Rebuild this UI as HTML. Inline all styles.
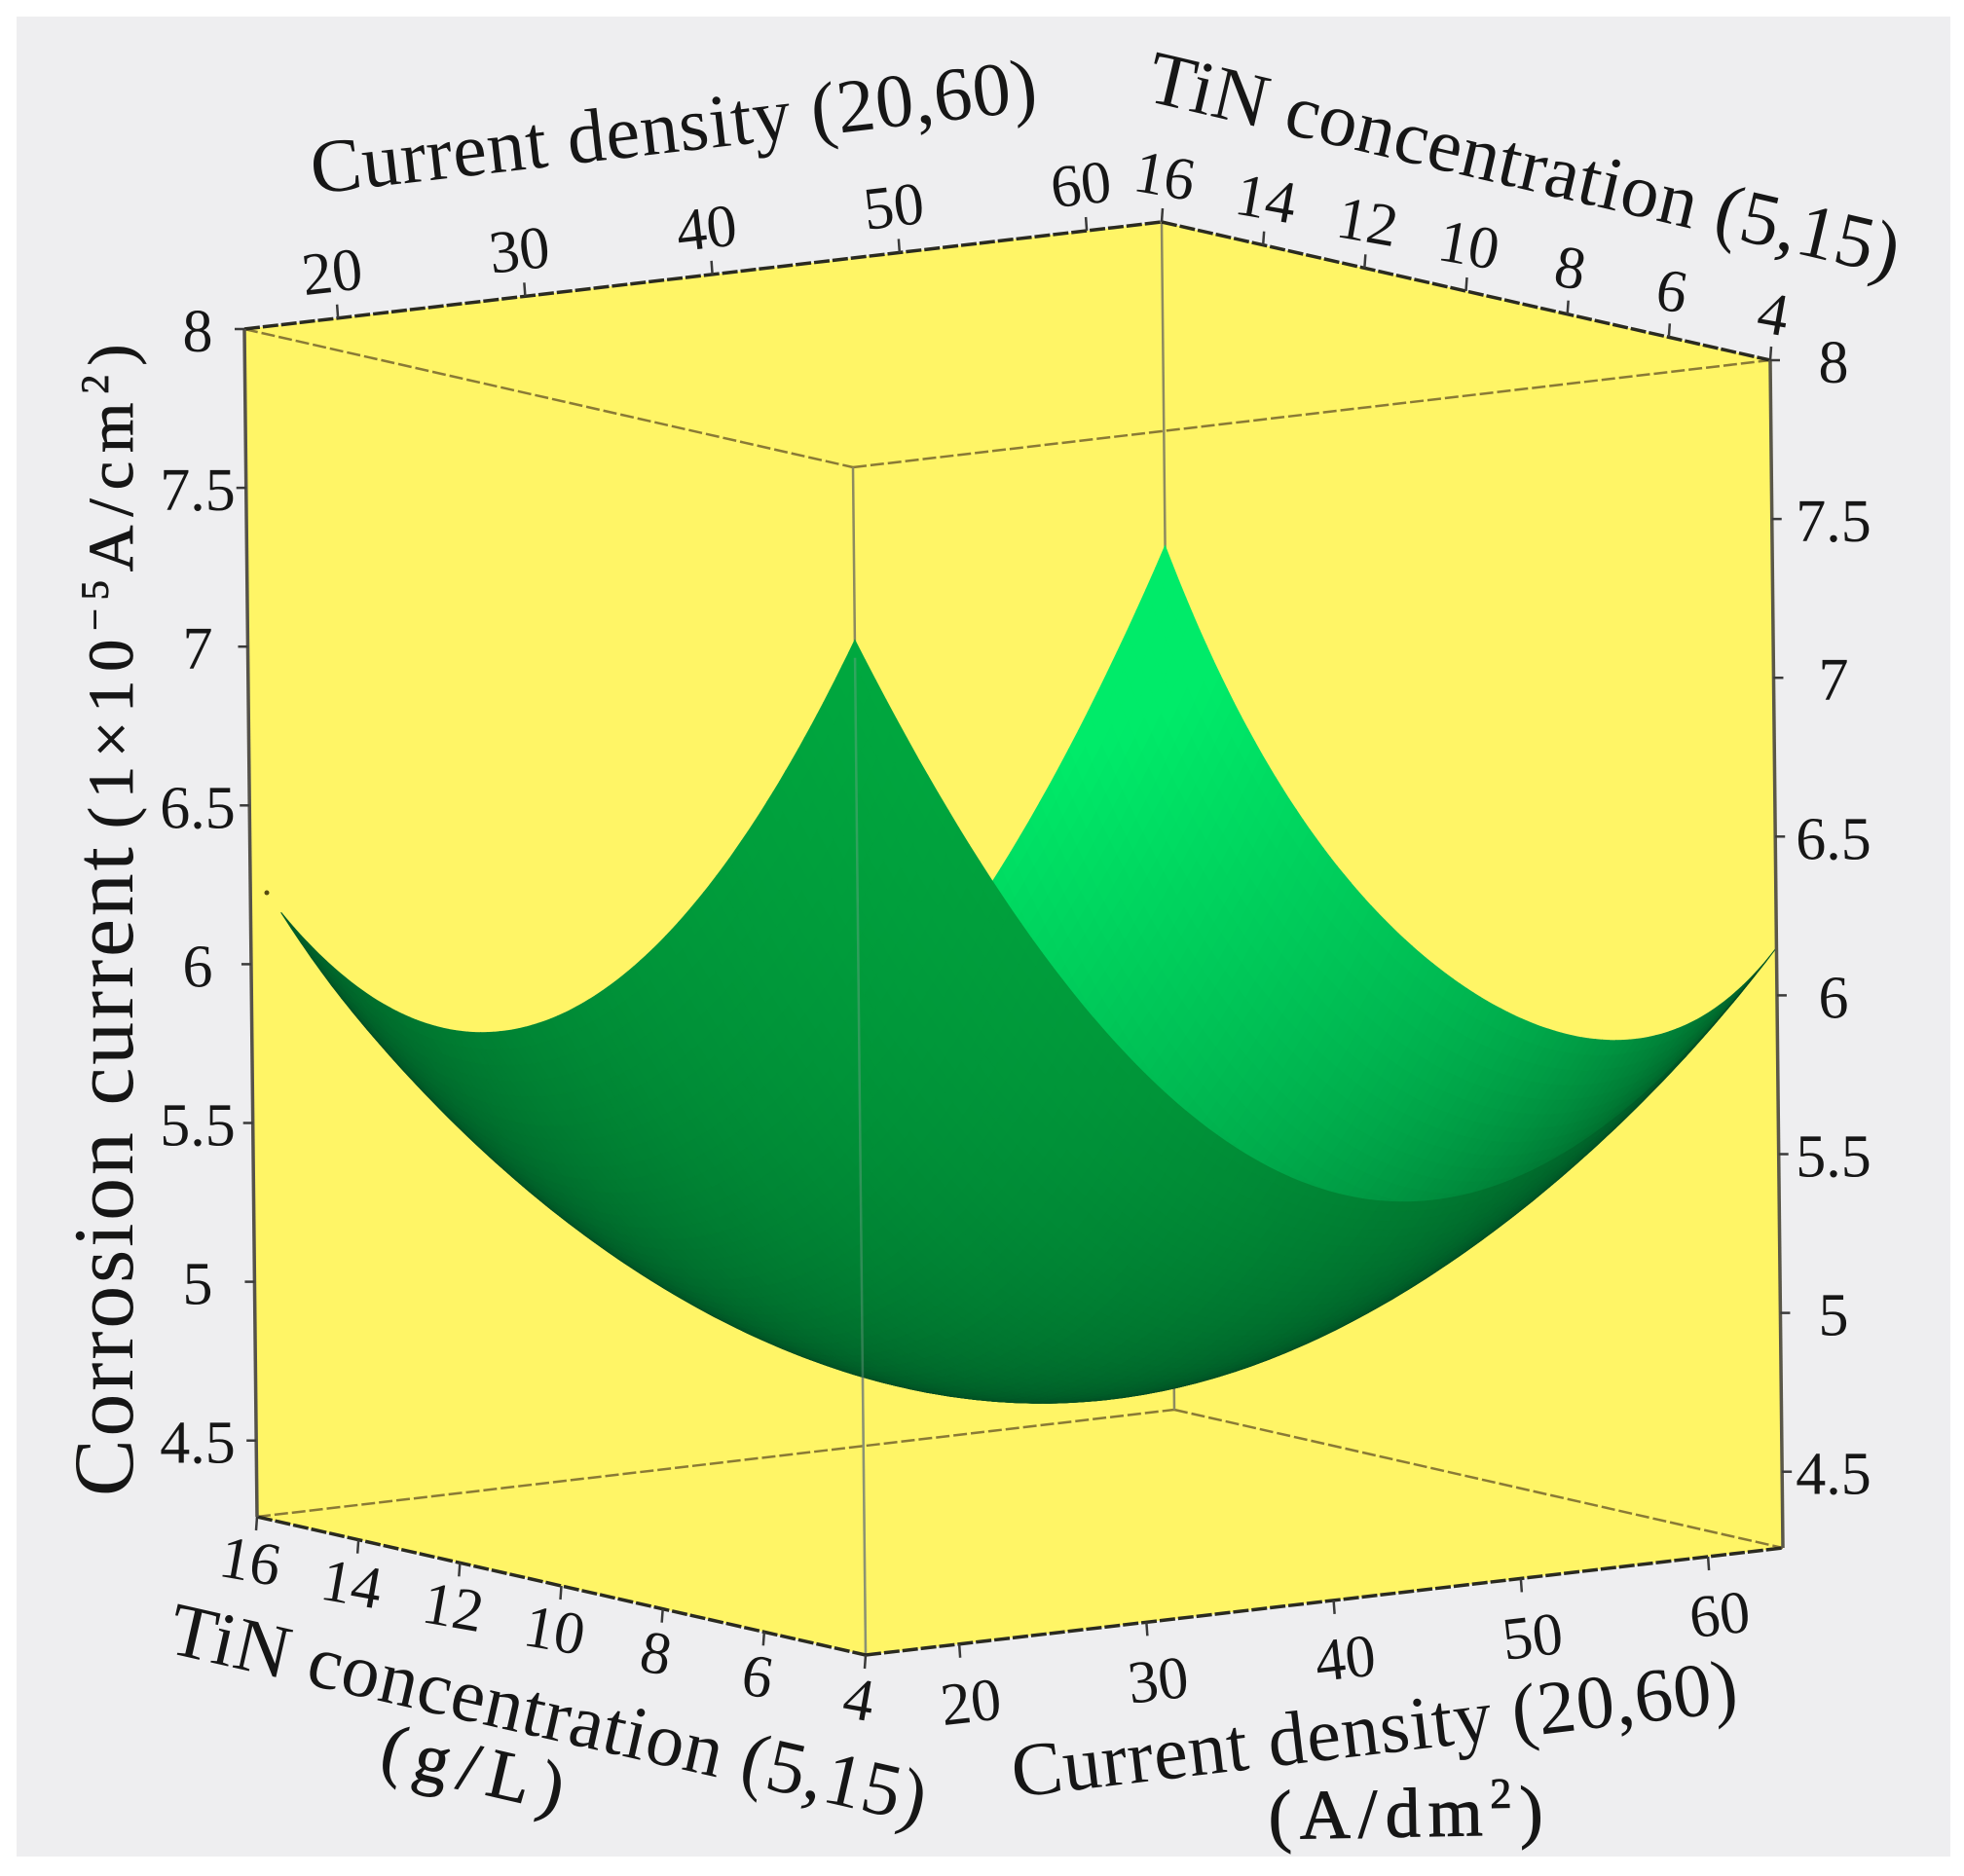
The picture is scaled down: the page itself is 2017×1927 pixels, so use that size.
<!DOCTYPE html>
<html lang="en">
<head>
<meta charset="utf-8">
<title>Corrosion current response surface</title>
<style>
html,body{margin:0;padding:0;background:#fff;}
svg{display:block;}
text{font-family:"Liberation Serif",serif;fill:#161616;}
</style>
</head>
<body>
<svg id="chart" xmlns="http://www.w3.org/2000/svg" width="2017" height="1927" viewBox="0 0 2017 1927">
  <rect x="17" y="17" width="1986" height="1890" fill="#eeeef0"/>
  <polygon id="walls" fill="#fff566"/>
  <g id="back-lines"></g>
  <g id="surface"></g>
  <g id="front-lines"></g>
  <g id="ticks"></g>
  <circle cx="274" cy="917" r="2.5" fill="#554a10"/>

  <text x="322" y="199" font-size="78" textLength="750" transform="rotate(-6.6 322 199)">Current density (20,60)</text>
  <text x="1175" y="103" font-size="78" textLength="790" transform="rotate(13.2 1175 103)">TiN concentration (5,15)</text>
  <text x="170" y="1697" font-size="78" textLength="795" transform="rotate(12.8 170 1697)">TiN concentration (5,15)</text>
  <text x="388" y="1818" font-size="72" stroke="#161616" stroke-width="0.8" textLength="190" transform="rotate(13 388 1818)">(g/L)</text>
  <text x="1042" y="1846" font-size="78" textLength="750" transform="rotate(-6.8 1042 1846)">Current density (20,60)</text>
  <text x="1303" y="1889" font-size="72" stroke="#161616" stroke-width="1" letter-spacing="8" transform="rotate(-1 1303 1889)">(A/dm<tspan font-size="44" dy="-28">2</tspan><tspan dy="28">)</tspan></text>
  <text x="136" y="1537" font-size="88" textLength="667" transform="rotate(-90 136 1537)">Corrosion current</text>
  <text x="136" y="851" font-size="66" stroke="#161616" stroke-width="0.8" letter-spacing="9" transform="rotate(-90 136 851)">(1×10<tspan font-size="40" dy="-25">−5</tspan><tspan dy="25">A/cm</tspan><tspan font-size="40" dy="-25">2</tspan><tspan dy="25">)</tspan></text>
</svg>

<script>
// ---- chart data ----
const densityGrid = [15, 27.25, 39.5, 51.75, 64];
const tinGrid = [4, 7, 10, 13, 16];
const currentAtTin4 = [7.456, 6.2, 5.56, 5.56, 6.15];
const currentAtTin7 = [6.56, 5.42, 4.92, 5.04, 5.75];
const currentAtTin10 = [6.051, 5.05, 4.67, 4.9, 5.79];
const currentAtTin13 = [5.95, 5.06, 4.8, 5.15, 6.15];
const currentAtTin16 = [6.29, 5.45, 5.33, 5.85, 6.98];
const densityTicks = [20, 30, 40, 50, 60];
const tinTicks = [16, 14, 12, 10, 8, 6, 4];
const currentTicks = [8, 7.5, 7, 6.5, 6, 5.5, 5, 4.5];
const currentTickLabels = ['8', '7.5', '7', '6.5', '6', '5.5', '5', '4.5'];

const currentRows = [currentAtTin4, currentAtTin7, currentAtTin10, currentAtTin13, currentAtTin16];
const NS = 'http://www.w3.org/2000/svg';

// ---- axis functions (orthographic cube projection) ----
const D_MIN = 15, D_MAX = 64, T_MIN = 4, T_MAX = 16, Z_MIN = 4.26, Z_MAX = 8;
function densityAxis(d) { return (d - D_MIN) / (D_MAX - D_MIN); }
function tinAxis(t) { return (t - T_MIN) / (T_MAX - T_MIN); }
function currentAxis(z) { return (z - Z_MIN) / (Z_MAX - Z_MIN); }
function project(d, t, z) {
  const u = densityAxis(d), v = tinAxis(t), w = currentAxis(z);
  return [889 + 942 * u - 625 * v - 13 * w, 1700 - 110 * u - 142 * v - 1220 * w];
}
function pointsAttr(list) { return list.map(function (p) { return p[0].toFixed(1) + ',' + p[1].toFixed(1); }).join(' '); }

// ---- cube ----
const cE = project(D_MIN, T_MIN, Z_MIN), cF = project(D_MAX, T_MIN, Z_MIN), cG = project(D_MIN, T_MAX, Z_MIN), cH = project(D_MAX, T_MAX, Z_MIN);
const cD = project(D_MIN, T_MIN, Z_MAX), cC = project(D_MAX, T_MIN, Z_MAX), cA = project(D_MIN, T_MAX, Z_MAX), cB = project(D_MAX, T_MAX, Z_MAX);
document.getElementById('walls').setAttribute('points', pointsAttr([cA, cB, cC, cF, cE, cG]));

function addLine(parent, a, b, color, width, dash, name) {
  const l = document.createElementNS(NS, 'line');
  l.setAttribute('x1', a[0]); l.setAttribute('y1', a[1]);
  l.setAttribute('x2', b[0]); l.setAttribute('y2', b[1]);
  l.setAttribute('stroke', color);
  l.setAttribute('stroke-width', width);
  if (dash) l.setAttribute('stroke-dasharray', dash);
  
  
  parent.appendChild(l);
  return l;
}
const backG = document.getElementById('back-lines');
addLine(backG, cA, cD, '#8a7a35', 2.5, '14 4', 'top-inner-left-edge');
addLine(backG, cD, cC, '#8a7a35', 2.5, '14 4', 'top-inner-right-edge');
addLine(backG, cG, cH, '#8a7a35', 2.5, '14 4', 'bottom-inner-left-edge');
addLine(backG, cH, cF, '#8a7a35', 2.5, '14 4', 'bottom-inner-right-edge');
addLine(backG, cB, cH, '#8d8a60', 2.5, '', 'back-vertical-edge');
addLine(backG, cD, cE, '#8d8a60', 2.5, '', 'front-vertical-edge-behind');

// ---- surface ----
function lagrange(nodes, values, x) {
  let s = 0;
  for (let i = 0; i < nodes.length; i++) {
    let b = 1;
    for (let j = 0; j < nodes.length; j++) {
      if (j !== i) b *= (x - nodes[j]) / (nodes[i] - nodes[j]);
    }
    s += b * values[i];
  }
  return s;
}
function currentAt(d, t) {
  const column = currentRows.map(function (row) { return lagrange(densityGrid, row, d); });
  return lagrange(tinGrid, column, t);
}
const CELLS = 90;
const T_END_LOW_DENSITY = 15.4;
const surfaceG = document.getElementById('surface');
const mesh = [];
for (let i = 0; i <= CELLS; i++) {
  const row = [];
  for (let j = 0; j <= CELLS; j++) {
    const d = D_MIN + (D_MAX - D_MIN) * j / CELLS;
    const tEnd = T_END_LOW_DENSITY + (T_MAX - T_END_LOW_DENSITY) * j / CELLS;
    const t = T_MIN + (tEnd - T_MIN) * i / CELLS;
    row.push(project(d, t, currentAt(d, t)));
  }
  mesh.push(row);
}
const du = 1 / CELLS, dv = (15.7 - T_MIN) / (T_MAX - T_MIN) / CELLS;
for (let i = CELLS - 1; i >= 0; i--) {
  for (let j = CELLS - 1; j >= 0; j--) {
    const a = mesh[i][j], b = mesh[i][j + 1], c = mesh[i + 1][j + 1], e = mesh[i + 1][j];
    const rx = (b[0] + c[0] - a[0] - e[0]) / 2 / du, ry = (b[1] + c[1] - a[1] - e[1]) / 2 / du;
    const qx = (e[0] + c[0] - a[0] - b[0]) / 2 / dv, qy = (e[1] + c[1] - a[1] - b[1]) / 2 / dv;
    const cross = rx * qy - ry * qx;
    const f = Math.min(1, Math.sqrt(Math.abs(cross) / 2.5e6));
    let col;
    if (cross < 0) {
      const g = Math.pow(f, 1.7);
      col = 'rgb(0,' + Math.round(85 + 150 * g) + ',' + Math.round(35 + 70 * g) + ')';
    } else {
      col = 'rgb(0,' + Math.round(60 + 112 * f) + ',' + Math.round(30 + 34 * f) + ')';
    }
    const cell = document.createElementNS(NS, 'polygon');
    cell.setAttribute('points', pointsAttr([a, b, c, e]));
    cell.setAttribute('fill', col);
    cell.setAttribute('stroke', col);
    cell.setAttribute('stroke-width', '1');
    
    
    surfaceG.appendChild(cell);
  }
}

// ---- outer edges ----
const frontG = document.getElementById('front-lines');
const overLine = addLine(frontG, project(D_MIN, T_MIN, 7.4), cE, '#8aa59a', 2.5, '', 'front-vertical-edge');
overLine.setAttribute('opacity', '0.35');
addLine(frontG, cA, cB, '#2a2a20', 3.5, '16 3', 'top-left-outer-edge');
addLine(frontG, cB, cC, '#2a2a20', 3.5, '16 3', 'top-right-outer-edge');
addLine(frontG, cG, cE, '#2a2a20', 3.5, '16 3', 'bottom-left-outer-edge');
addLine(frontG, cE, cF, '#2a2a20', 3.5, '16 3', 'bottom-right-outer-edge');
addLine(frontG, cA, cG, '#55524a', 3.5, '', 'left-vertical-edge');
addLine(frontG, cC, cF, '#5a5748', 3.5, '', 'right-vertical-edge');

// ---- ticks & labels ----
const ticksG = document.getElementById('ticks');
const svgRoot = document.getElementById('chart');
function addLabel(str, x, y, rot, name) {
  const tx = document.createElementNS(NS, 'text');
  tx.setAttribute('x', x);
  tx.setAttribute('y', y);
  tx.setAttribute('font-size', '62');
  tx.setAttribute('text-anchor', 'middle');
  tx.setAttribute('dominant-baseline', 'central');
  tx.setAttribute('transform', 'rotate(' + rot + ' ' + x + ' ' + y + ')');
  
  
  tx.textContent = str;
  svgRoot.appendChild(tx);
}
densityTicks.forEach(function (d) {
  const top = project(d, T_MAX, Z_MAX);
  addLine(ticksG, top, [top[0] - 1, top[1] - 14], '#3a3a3a', 2.5, '', 'density-tick-top');
  addLabel(String(d), top[0] - 6, top[1] - 47, -6.6, 'density-tick-label-top');
  const bot = project(d, T_MIN, Z_MIN);
  addLine(ticksG, bot, [bot[0] + 1, bot[1] + 14], '#3a3a3a', 2.5, '', 'density-tick-bottom');
  addLabel(String(d), bot[0] + 12, bot[1] + 60, -6.6, 'density-tick-label-bottom');
});
tinTicks.forEach(function (t) {
  const top = project(D_MAX, t, Z_MAX);
  addLine(ticksG, top, [top[0] + 1, top[1] - 14], '#3a3a3a', 2.5, '', 'tin-tick-top');
  addLabel(String(t), top[0] + 3, top[1] - 47, 10, 'tin-tick-label-top');
  const bot = project(D_MIN, t, Z_MIN);
  addLine(ticksG, bot, [bot[0] - 1, bot[1] + 14], '#3a3a3a', 2.5, '', 'tin-tick-bottom');
  addLabel(String(t), bot[0] - 7, bot[1] + 46, 10, 'tin-tick-label-bottom');
});
currentTicks.forEach(function (z, i) {
  const left = project(D_MIN, T_MAX, z);
  addLine(ticksG, left, [left[0] - 10, left[1]], '#3a3a3a', 2.5, '', 'current-tick-left');
  addLabel(currentTickLabels[i], 203, left[1] + 3, 0, 'current-tick-label-left');
  const right = project(D_MAX, T_MIN, z);
  addLine(ticksG, right, [right[0] + 10, right[1]], '#3a3a3a', 2.5, '', 'current-tick-right');
  addLabel(currentTickLabels[i], 1883, right[1] + 3, 0, 'current-tick-label-right');
});
</script>
</body>
</html>
